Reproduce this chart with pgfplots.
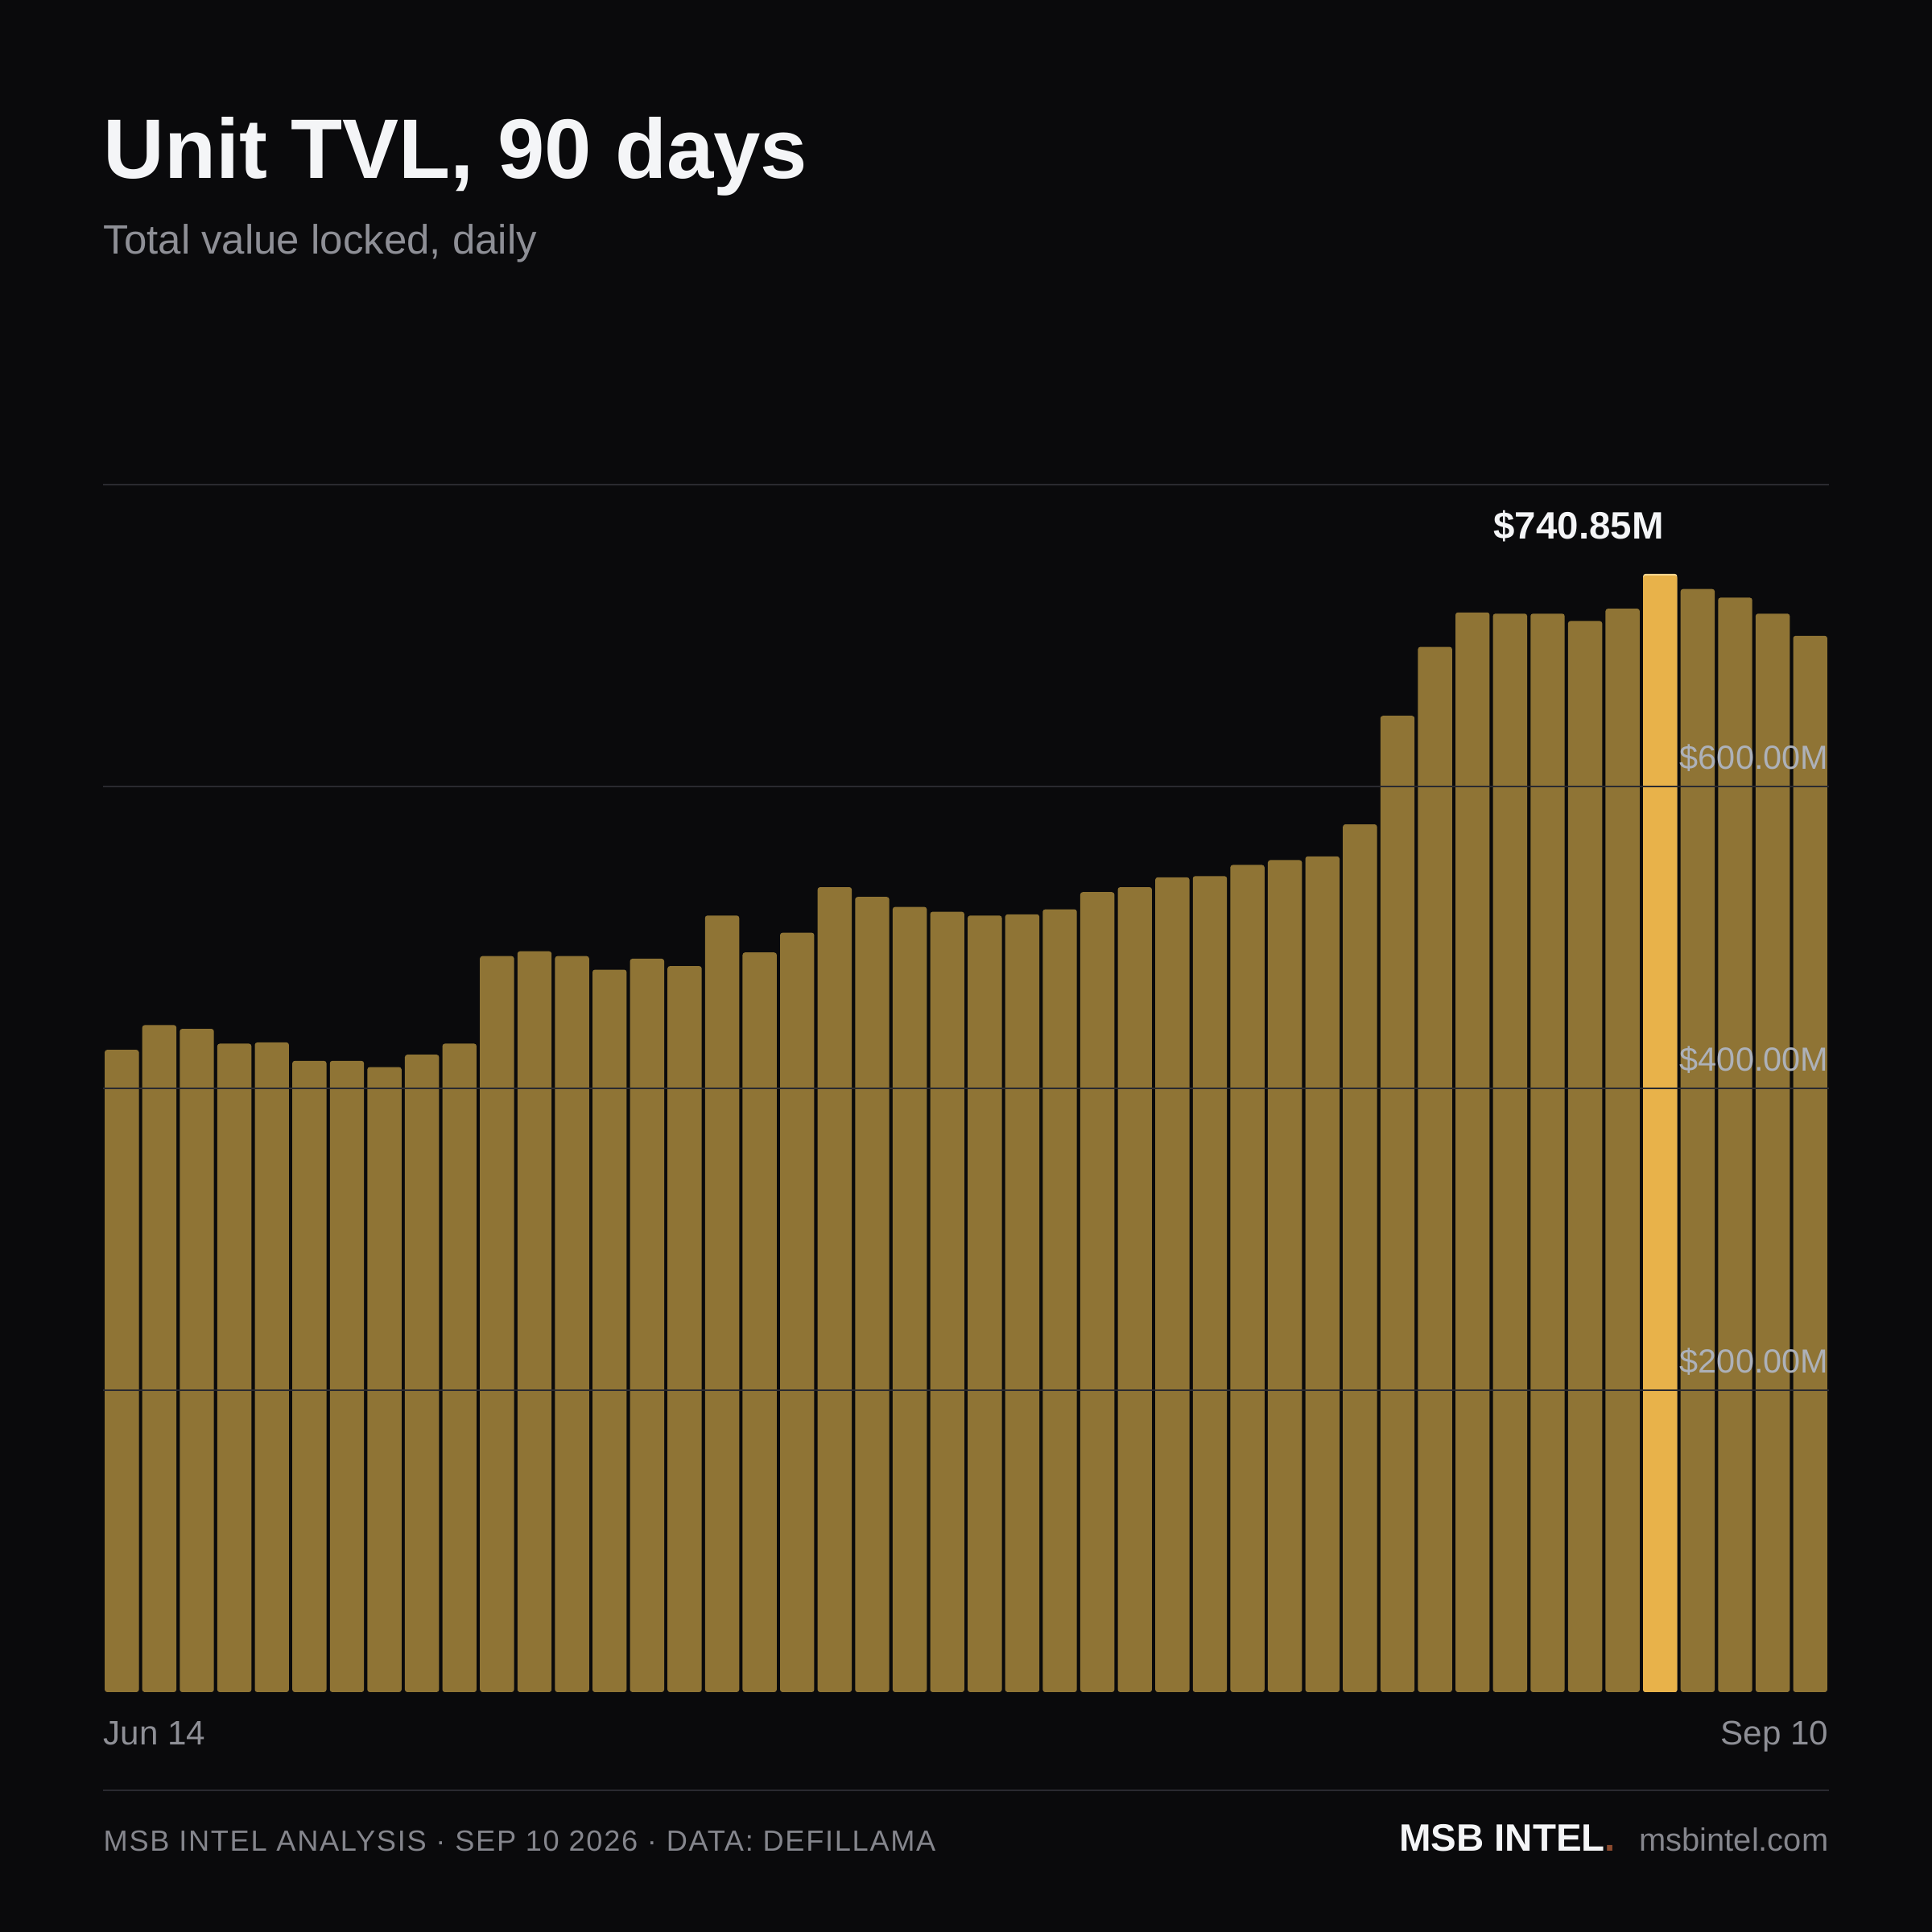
\documentclass[border=0pt]{standalone}
\usepackage{fontspec}
\setmainfont{Liberation Sans}
\newfontfamily\footfont[LetterSpace=4.7]{Liberation Sans}
\usepackage{pgfplots}
\pgfplotsset{compat=1.18}

\definecolor{bg}{HTML}{0A0A0C}
\definecolor{titlec}{HTML}{F4F5F7}
\definecolor{subc}{HTML}{8E8F96}
\definecolor{barc}{HTML}{8F7435}
\definecolor{hibar}{HTML}{E8B24A}
\definecolor{hitop}{HTML}{F6D58E}
\definecolor{gridc}{HTML}{2A2A30}
\definecolor{ticklbl}{HTML}{ADB1B9}
\definecolor{footc}{HTML}{85868D}
\definecolor{dotc}{HTML}{8C4A2E}

\begin{document}
\begin{tikzpicture}[x=1mm,y=1mm]
\fill[bg] (0,0) rectangle (240,240);

\node[anchor=base west, inner sep=0pt, text=titlec] at (12.8,217.8) {\fontsize{29.85}{36}\selectfont\bfseries Unit TVL, 90 days};
\node[anchor=base west, inner sep=0pt, text=subc] at (12.8,208.4) {\fontsize{14.5}{17}\selectfont Total value locked, daily};

\begin{axis}[
    at={(12.8mm,29.8mm)}, anchor=south west,
    scale only axis, width=214.4mm, height=150mm,
    xmin=-0.5, xmax=45.5, ymin=0, ymax=800,
    axis line style={draw=none},
    tick style={draw=none},
    xtick=\empty,
    ytick={200,400,600,800},
    yticklabels={\$200.00M,\$400.00M,\$600.00M,},
    yticklabel pos=right,
    yticklabel style={anchor=base east, inner sep=0pt, yshift=2.17mm, text=ticklbl, font=\fontsize{11.8}{14}\selectfont},
    ymajorgrids,
    major grid style={draw=gridc, line width=0.2mm},
    axis on top,
    bar width=0.91,
    clip=false,
]
% daily TVL, $M (day 41 is the peak, drawn separately)
\addplot[ybar, bar shift=0pt, fill=barc, draw=none, rounded corners=0.3mm] coordinates {
(0,425.5)(1,441.9)(2,439.4)(3,429.6)(4,430.4)(5,418.2)(6,418.2)(7,414.1)(8,422.3)(9,429.6)
(10,487.6)(11,490.8)(12,487.6)(13,478.6)(14,485.9)(15,481.0)(16,514.5)(17,490.0)(18,503.1)(19,533.3)
(20,526.8)(21,520.2)(22,517.0)(23,514.5)(24,515.3)(25,518.6)(26,530.0)(27,533.3)(28,539.8)(29,540.6)
(30,548.0)(31,551.2)(32,553.7)(33,574.9)(34,646.8)(35,692.5)(36,715.3)(37,714.5)(38,714.5)(39,709.6)
(40,717.8)(42,730.8)(43,725.1)(44,714.5)(45,699.8)};
\addplot[ybar, bar shift=0pt, fill=hitop, draw=none, rounded corners=0.3mm,
    nodes near coords={\textbf{\$740.85M}},
    nodes near coords style={anchor=base east, inner sep=0pt, xshift=0.5mm, yshift=4.3mm, text=titlec, font=\fontsize{13.5}{16}\selectfont}]
    coordinates {(41,740.85)};
\addplot[ybar, bar shift=0pt, fill=hibar, draw=none, rounded corners=0.3mm] coordinates {(41,739.7)};
\end{axis}

\node[anchor=base west, inner sep=0pt, text=subc] at (12.8,23.2) {\fontsize{12}{14}\selectfont Jun 14};
\node[anchor=base east, inner sep=0pt, text=subc] at (227.2,23.2) {\fontsize{12}{14}\selectfont Sep 10};

\draw[gridc, line width=0.2mm] (12.8,17.6) -- (227.2,17.6);

\node[anchor=base west, inner sep=0pt, text=footc] at (12.8,10) {\footfont\fontsize{10.3}{12}\selectfont MSB INTEL ANALYSIS · SEP 10 2026 · DATA: DEFILLAMA};
\node[anchor=base east, inner sep=0pt, text=footc] (url) at (227.2,10) {\fontsize{11.35}{14}\selectfont msbintel.com};
\node[anchor=base east, inner sep=0pt, text=titlec] at ([xshift=-2.8mm]url.base west) {\fontsize{13.5}{16}\selectfont\bfseries MSB INTEL\textcolor{dotc}{.}};
\end{tikzpicture}
\end{document}
